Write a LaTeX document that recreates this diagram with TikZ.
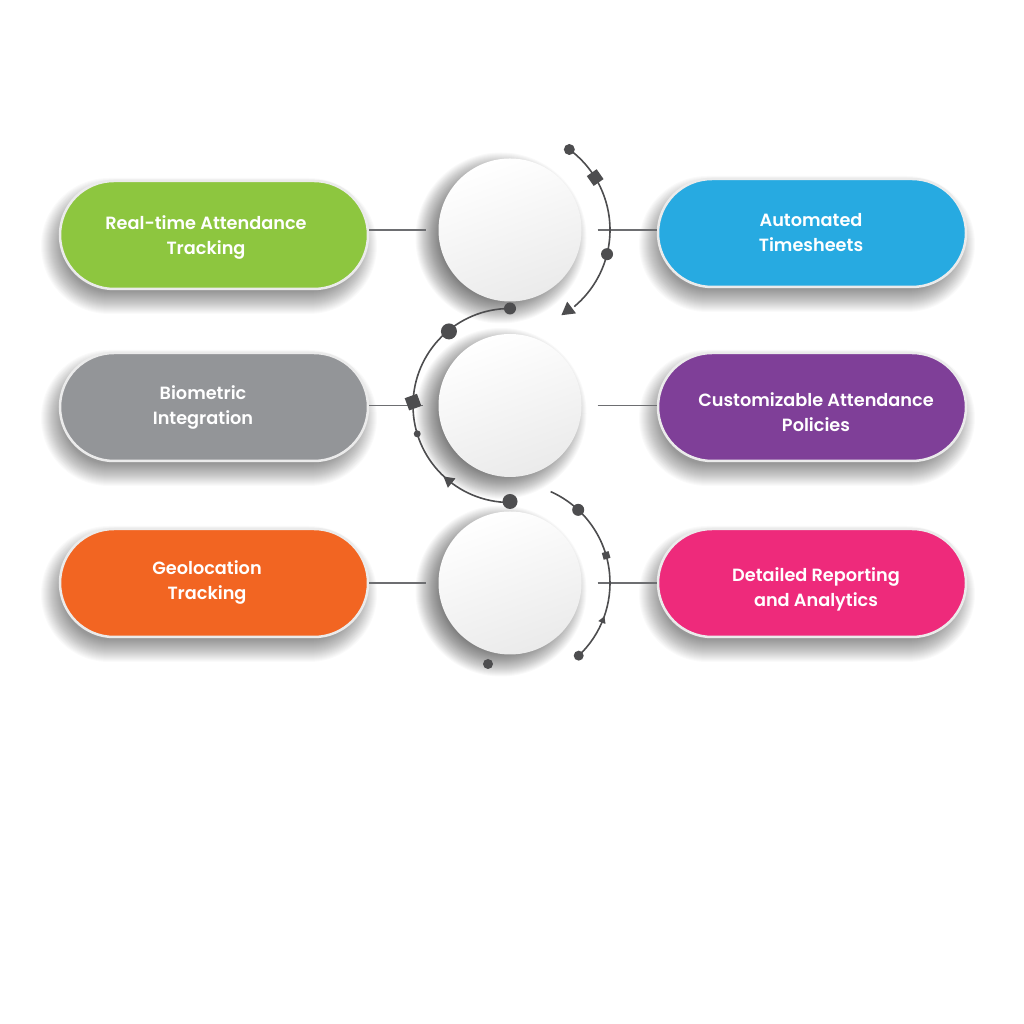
\documentclass[tikz,border=0pt]{standalone}
\usepackage{fontspec}
\setmainfont{Poppins}
\IfFontExistsTF{Poppins SemiBold}{%
  \newfontfamily\pillfontbase{Poppins SemiBold}\newcommand\pillfont{\pillfontbase}}{%
  \IfFontExistsTF{Poppins Medium}{%
    \newfontfamily\pillfontbase{Poppins Medium}\newcommand\pillfont{\pillfontbase}}{%
    \newfontfamily\pillfontbase{Poppins}\newcommand\pillfont{\pillfontbase\bfseries}}}
\usetikzlibrary{shapes.geometric,calc}
\definecolor{cgreen}{HTML}{8DC63F}
\definecolor{cblue}{HTML}{27AAE1}
\definecolor{cgrey}{HTML}{939598}
\definecolor{cpurple}{HTML}{7F3F98}
\definecolor{corange}{HTML}{F26522}
\definecolor{cpink}{HTML}{EE2A7B}
\definecolor{ink}{HTML}{4D4D4F}
\definecolor{connc}{HTML}{6D6E71}
\newcommand\softdisc[3]{%
  \foreach \i in {0,...,26}{%
    \pgfmathsetmacro\rr{#3+14-\i}%
    \fill[black, opacity=0.024] (#1-9,#2-8) circle[radius=\rr];}}
\newcommand\softpill[2]{%
  \foreach \i in {0,...,22}{%
    \pgfmathsetmacro\dd{14-\i}%
    \pgfmathsetmacro\rc{54+\dd}%
    \fill[black, opacity=0.021, rounded corners=\rc pt]
      (#1-154-\dd-5, #2-54-\dd-11) rectangle (#1+154+\dd-5, #2+54+\dd-11);}}
\begin{document}
\begin{tikzpicture}[x=1pt,y=1pt,
  pill/.style={rectangle, rounded corners=54pt, minimum width=308pt, minimum height=108pt,
    draw=white!92!black, line width=2.5pt},
  ptext/.style={text=white, align=center, font=\fontsize{17.7}{25}\selectfont\pillfont},
  disc/.style={circle, minimum size=143pt, inner sep=0pt, top color=white, bottom color=black!8,
    shading angle=20},
  conn/.style={draw=connc, line width=1.3pt},
  arcl/.style={draw=ink, line width=1.6pt},
  dotc/.style={circle, fill=ink, inner sep=0pt, minimum size=#1},
  sqr/.style={rectangle, fill=ink, inner sep=0pt, minimum size=#1},
  tri/.style={regular polygon, regular polygon sides=3, fill=ink, inner sep=0pt, minimum size=#1}
]
\useasboundingbox (0,0) rectangle (1024,1024);
\fill[white] (0,0) rectangle (1024,1024);

% soft shadows
\softpill{214}{789}
\softpill{812}{791}
\softpill{214}{617}
\softpill{812}{617}
\softpill{214}{441}
\softpill{812}{441}
\softdisc{510}{794}{71.5}
\softdisc{510}{618.5}{71.5}
\softdisc{510}{441}{71.5}

% pills
\node[pill, fill=cgreen]  (p1) at (214,789) {};
\node[pill, fill=cblue]   (p2) at (812,791) {};
\node[pill, fill=cgrey]   (p3) at (214,617) {};
\node[pill, fill=cpurple] (p4) at (812,617) {};
\node[pill, fill=corange] (p5) at (214,441) {};
\node[pill, fill=cpink]   (p6) at (812,441) {};

\node[ptext] (t1) at (206,786.5) {Real-time Attendance\\Tracking};
\node[ptext] (t2) at (811,791.5) {Automated\\Timesheets};
\node[ptext] (t3) at (203,616.5) {Biometric\\Integration};
\node[ptext] (t4) at (816,611.5) {Customizable Attendance\\Policies};
\node[ptext] (t5) at (207,441.5) {Geolocation\\Tracking};
\node[ptext] (t6) at (816,434.5) {Detailed Reporting\\and Analytics};

% circles
\node[disc] (c1) at (510,794) {};
\node[disc] (c2) at (510,618.5) {};
\node[disc] (c3) at (510,441) {};

% connectors
\draw[conn, shorten >=12pt] (p1.east |- c1.west) -- (c1.west);
\draw[conn, shorten <=16pt] (c1.east) -- (p2.west |- c1.east);
\draw[conn, shorten >=15pt] (p3.east |- c2.west) -- (c2.west);
\draw[conn, shorten <=16pt] (c2.east) -- (p4.west |- c2.east);
\draw[conn, shorten >=12pt] (p5.east |- c3.west) -- (c3.west);
\draw[conn, shorten <=16pt] (c3.east) -- (p6.west |- c3.east);

% arc 1 (right of circle 1)
\coordinate (a1s) at ($(c1)+(53.6:100pt)$);
\draw[arcl] (a1s) arc[start angle=53.6, end angle=-50, radius=100pt];
\node[dotc=11pt] (a1d1) at (a1s) {};
\node[sqr=12pt, rotate=35] (a1q) at ($(c1)+(31.6:100pt)$) {};
\node[dotc=12pt] (a1d2) at ($(c1)+(-14:100pt)$) {};
\node[tri=17pt, rotate=127] (a1t) at ($(c1)+(-54:99pt)$) {};

% arc 2 (left of circle 2)
\coordinate (a2s) at ($(c2)+(90:97pt)$);
\draw[arcl] (a2s) arc[start angle=90, end angle=270, radius=97pt];
\node[dotc=12pt] (a2d1) at (a2s) {};
\node[dotc=16pt] (a2d2) at ($(c2)+(129.5:96pt)$) {};
\node[sqr=13pt, rotate=20] (a2q) at ($(c2)+(178:97pt)$) {};
\node[dotc=7pt] (a2d3) at ($(c2)+(197:97pt)$) {};
\node[tri=14pt, rotate=51] (a2t) at ($(c2)+(231:97pt)$) {};
\node[dotc=15pt] (a2d4) at ($(c2)+(270:96pt)$) {};

% arc 3 (right of circle 3)
\coordinate (a3s) at ($(c3)+(66:100pt)$);
\draw[arcl] (a3s) arc[start angle=66, end angle=-46.6, radius=100pt];
\node[dotc=12pt] (a3d1) at ($(c3)+(47:100pt)$) {};
\node[sqr=7pt, rotate=16] (a3q) at ($(c3)+(16:100pt)$) {};
\node[tri=9pt, rotate=-22] (a3t) at ($(c3)+(-22:100pt)$) {};
\node[dotc=10pt] (a3d2) at ($(c3)+(-46.6:100pt)$) {};

% lone dot
\node[dotc=10pt] (ld) at (488,360) {};
\end{tikzpicture}
\end{document}
